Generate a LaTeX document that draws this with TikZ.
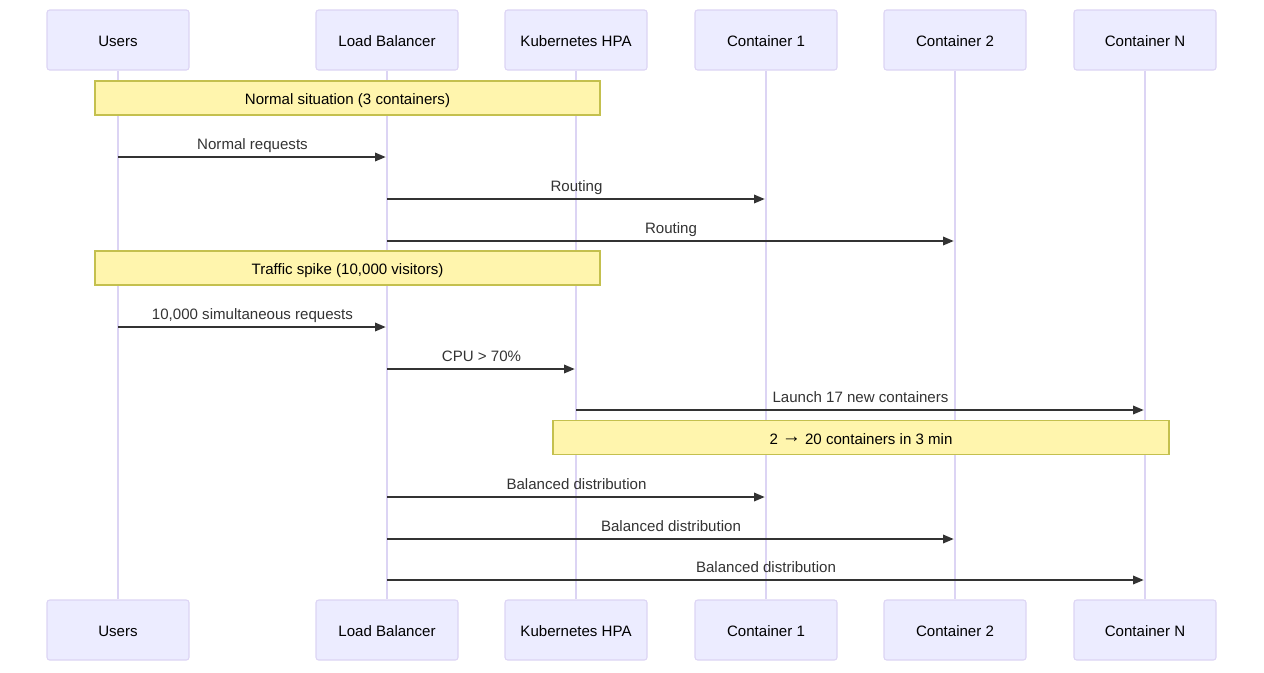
\documentclass[tikz,border=0pt]{standalone}
\usepackage{fontspec}
\setmainfont{Liberation Sans}
\usepackage{xcolor}
\usepackage{tikz}
\usetikzlibrary{arrows.meta}

\definecolor{actfill}{HTML}{ECECFF}
\definecolor{actline}{HTML}{DCD4F4}
\definecolor{notefill}{HTML}{FFF5AD}
\definecolor{noteline}{HTML}{C4C04E}
\definecolor{msgcol}{HTML}{333333}

\tikzset{
    actor/.style={draw=actline, fill=actfill, line width=.8pt, rounded corners=2pt,
        minimum width=106.5pt, minimum height=45pt, inner sep=0pt,
        text height=10pt, text depth=0pt,
        font=\fontsize{11.3}{13}\selectfont},
    life/.style={draw=actline, line width=1.1pt},
    note/.style={draw=noteline, fill=notefill, line width=.8pt, minimum height=25.5pt,
        inner sep=0pt, text height=10pt, text depth=0pt,
        font=\fontsize{11.3}{13}\selectfont},
    msg/.style={draw=msgcol, line width=1pt, -{Triangle[length=8pt,width=6.5pt]}, shorten >=1pt},
    msglabel/.style={midway, yshift=8.6pt, text=msgcol, inner sep=0pt,
        text height=8.2pt, text depth=2.2pt, font=\fontsize{11.3}{13}\selectfont}
}

\begin{document}
\begin{tikzpicture}[x=0.75pt, y=-0.75pt]
    \useasboundingbox (0,0) rectangle (1264,672);
    % 参与者 (上)
    \node[actor] (uT)  at (118,40)  {Users};
    \node[actor] (lbT) at (387,40)  {Load Balancer};
    \node[actor] (hT)  at (576,40)  {Kubernetes HPA};
    \node[actor] (c1T) at (766,40)  {Container 1};
    \node[actor] (c2T) at (955,40)  {Container 2};
    \node[actor] (cnT) at (1145,40) {Container N};
    % 参与者 (下)
    \node[actor] (uB)  at (118,630)  {Users};
    \node[actor] (lbB) at (387,630)  {Load Balancer};
    \node[actor] (hB)  at (576,630)  {Kubernetes HPA};
    \node[actor] (c1B) at (766,630)  {Container 1};
    \node[actor] (c2B) at (955,630)  {Container 2};
    \node[actor] (cnB) at (1145,630) {Container N};
    % 生命线
    \draw[life] (uT.south) -- (uB.north);
    \draw[life] (lbT.south) -- (lbB.north);
    \draw[life] (hT.south) -- (hB.north);
    \draw[life] (c1T.south) -- (c1B.north);
    \draw[life] (c2T.south) -- (c2B.north);
    \draw[life] (cnT.south) -- (cnB.north);
    % 注释
    \node[note, minimum width=378.75pt] (n1) at (347.5,98) {Normal situation (3 containers)};
    \node[note, minimum width=378.75pt] (n2) at (347.5,268) {Traffic spike (10,000 visitors)};
    \node[note, minimum width=462pt] (n3) at (861,437.5) {2 \raisebox{1.3pt}{\scalebox{1.25}{→}} 20 containers in 3 min};
    % 消息行
    \coordinate (r1) at (0,157);
    \coordinate (r2) at (0,199);
    \coordinate (r3) at (0,241);
    \coordinate (r4) at (0,327);
    \coordinate (r5) at (0,369);
    \coordinate (r6) at (0,410);
    \coordinate (r7) at (0,497);
    \coordinate (r8) at (0,539);
    \coordinate (r9) at (0,580);
    % 正常情况
    \draw[msg] (uT |- r1) -- node[msglabel] {Normal requests} (lbT |- r1);
    \draw[msg] (lbT |- r2) -- node[msglabel] {Routing} (c1T |- r2);
    \draw[msg] (lbT |- r3) -- node[msglabel] {Routing} (c2T |- r3);
    % 流量高峰
    \draw[msg] (uT |- r4) -- node[msglabel] {10,000 simultaneous requests} (lbT |- r4);
    \draw[msg] (lbT |- r5) -- node[msglabel] {CPU > 70\%} (hT |- r5);
    \draw[msg] (hT |- r6) -- node[msglabel] {Launch 17 new containers} (cnT |- r6);
    % 负载均衡
    \draw[msg] (lbT |- r7) -- node[msglabel] {Balanced distribution} (c1T |- r7);
    \draw[msg] (lbT |- r8) -- node[msglabel] {Balanced distribution} (c2T |- r8);
    \draw[msg] (lbT |- r9) -- node[msglabel] {Balanced distribution} (cnT |- r9);
\end{tikzpicture}
\end{document}
